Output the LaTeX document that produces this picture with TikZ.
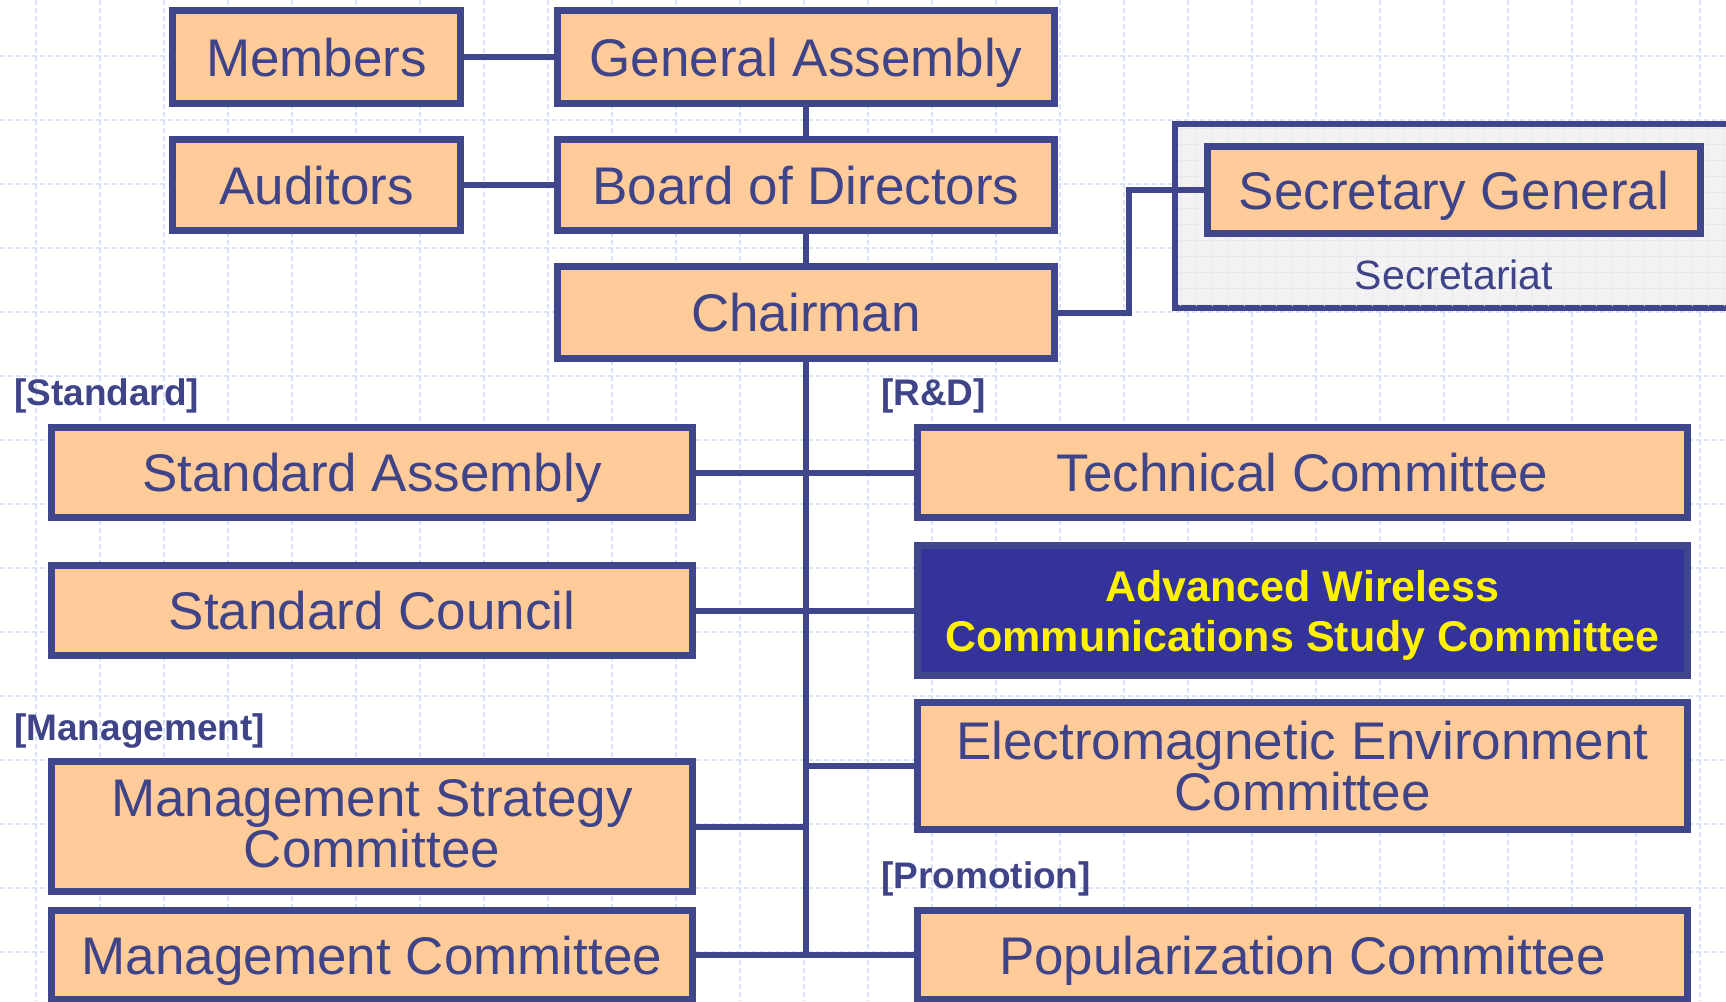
\documentclass[tikz,border=0pt]{standalone}
\usepackage{fontspec}
\setmainfont{Liberation Sans}
\definecolor{peach}{HTML}{FFCB98}
\definecolor{bord}{HTML}{40468C}
\definecolor{txt}{HTML}{3F4489}
\definecolor{navy}{HTML}{333399}
\definecolor{gridc}{HTML}{D8E2F8}
\definecolor{secfill}{HTML}{F2F2F2}
\definecolor{secgrid}{HTML}{E6E8EE}
\begin{document}
\begin{tikzpicture}[x=1pt,y=-1pt,
  box/.style={draw=bord, line width=7pt, fill=peach, text=txt, inner sep=0pt,
    font=\fontsize{53}{51}\selectfont, align=center},
  onebox/.style={box, text height=38pt, text depth=0pt},
  hibox/.style={box, fill=navy, text=yellow, font=\bfseries\fontsize{43}{50}\selectfont},
  conn/.style={draw=bord, line width=6pt},
  grp/.style={text=txt, font=\bfseries\fontsize{37}{40}\selectfont, anchor=base west, inner sep=0pt},
  gridl/.style={draw=gridc, line width=1.3pt, dash pattern=on 5pt off 3pt}]
\useasboundingbox (0,0) rectangle (1726,1001);
\clip (0,0) rectangle (1726,1001);
% background grid
\foreach \k in {0,...,26} \draw[gridl] ({36+64*\k},0) -- ({36+64*\k},1001);
\foreach \k in {0,...,15} \draw[gridl] (0,{56+64*\k}) -- (1726,{56+64*\k});
% secretariat container
\node[draw=bord, line width=6pt, fill=secfill, minimum width=570pt, minimum height=184pt, inner sep=0pt] (secr) at (1460,216) {};
\begin{scope}
\clip (1178,127) rectangle (1740,305);
\foreach \k in {0,...,36} \draw[secgrid, line width=0.6pt] ({1180+16*\k},120) -- ({1180+16*\k},310);
\foreach \k in {0,...,12} \draw[secgrid, line width=0.6pt] (1170,{128+16*\k}) -- (1740,{128+16*\k});
\end{scope}
\node[text=txt, font=\fontsize{41}{44}\selectfont, inner sep=0pt, text height=30pt, text depth=0pt] (sect) at (1454,274) {Secretariat};
% boxes
\node[onebox, minimum width=288pt, minimum height=93pt] (mem) at (316.5,57) {Members};
\node[onebox, minimum width=497pt, minimum height=93pt] (ga) at (806,57) {General Assembly};
\node[onebox, minimum width=288pt, minimum height=91pt] (aud) at (316.5,185) {Auditors};
\node[onebox, minimum width=497pt, minimum height=91pt] (bod) at (806,185) {Board of Directors};
\node[onebox, minimum width=497pt, minimum height=92pt] (chair) at (806,312.5) {Chairman};
\node[onebox, minimum width=493pt, minimum height=87pt] (sg) at (1454,190) {Secretary General};
\node[onebox, minimum width=641pt, minimum height=90pt] (sa) at (372,472.5) {Standard Assembly};
\node[onebox, minimum width=770pt, minimum height=90pt] (tc) at (1302.5,472.5) {Technical Committee};
\node[onebox, minimum width=641pt, minimum height=90pt] (sc) at (372,610.5) {Standard Council};
\node[hibox, minimum width=770pt, minimum height=130pt] (aw) at (1302.5,610.5) {\rule{0pt}{40pt}Advanced Wireless\\Communications Study Committee};
\node[box, minimum width=770pt, minimum height=127pt] (eec) at (1302.5,766) {Electromagnetic Environment\\Committee};
\node[box, minimum width=641pt, minimum height=130pt] (msc) at (372,826.5) {Management Strategy\\Committee\rule[-7pt]{0pt}{7pt}};
\node[onebox, minimum width=641pt, minimum height=89pt] (mc) at (372,955) {Management Committee};
\node[onebox, minimum width=770pt, minimum height=89pt] (pc) at (1302.5,955) {Popularization Committee};
% group labels
\node[grp] (lstd) at (14,405) {[Standard]};
\node[grp] (lrd) at (881,405) {[R\&D]};
\node[grp] (lman) at (14,740) {[Management]};
\node[grp] (lpro) at (881,888) {[Promotion]};
% connectors
\draw[conn] (mem.east) -- (ga.west);
\draw[conn] (aud.east) -- (bod.west);
\draw[conn] (ga.south) -- (bod.north);
\draw[conn] (bod.south) -- (chair.north);
\coordinate (sj) at (1129,190);
\draw[conn, line join=miter] (chair.east) -| (sj) -- (sg.west);
\coordinate (tend) at (806,955);
\draw[conn] (chair.south) -- (tend);
\draw[conn] (sa.east) -- (tc.west);
\draw[conn] (sc.east) -- (aw.west);
\draw[conn] (eec.west) -- (eec.west -| tend);
\draw[conn] (msc.east) -- (msc.east -| tend);
\draw[conn] (mc.east) -- (pc.west);
\end{tikzpicture}
\end{document}
